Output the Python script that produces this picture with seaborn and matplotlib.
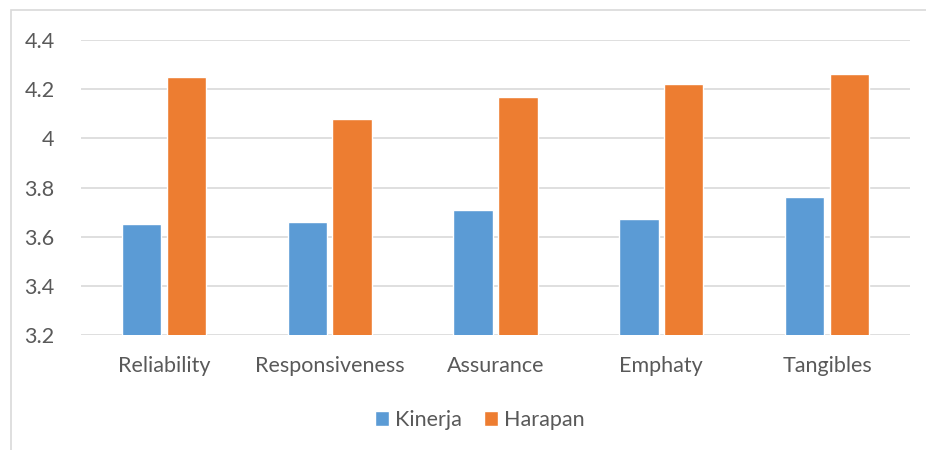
import matplotlib
matplotlib.use("Agg")
import matplotlib.pyplot as plt
import seaborn as sns
import pandas as pd
from matplotlib.patches import Rectangle

categories = ["Reliability", "Responsiveness", "Assurance", "Emphaty", "Tangibles"]
kinerja = [3.65, 3.66, 3.71, 3.67, 3.76]
harapan = [4.25, 4.08, 4.17, 4.22, 4.26]
series_names = ["Kinerja", "Harapan"]
yticks = [3.2, 3.4, 3.6, 3.8, 4.0, 4.2, 4.4]
ytick_labels = ["3.2", "3.4", "3.6", "3.8", "4", "4.2", "4.4"]

df = pd.DataFrame({
    "category": categories * 2,
    "value": kinerja + harapan,
    "series": [series_names[0]] * len(categories) + [series_names[1]] * len(categories),
})

sns.set_theme(style="white")
plt.rcParams["font.family"] = ["Lato", "DejaVu Sans"]
text_color = "#595959"
fs = 15.5

fig = plt.figure(figsize=(9.26, 4.5), dpi=100)
ax = fig.add_axes([81 / 926, 1 - 335 / 450, (910 - 81) / 926, (335 - 40) / 450])

# outer chart frame
fig.patches.append(Rectangle((11 / 926, -0.05), 1.0, 1 - 10 / 450 + 0.05,
                             transform=fig.transFigure, fill=False,
                             edgecolor="#D9D9D9", linewidth=1.2, zorder=0))

sns.barplot(data=df, x="category", y="value", hue="series",
            palette=["#5B9BD5", "#ED7D31"], width=0.54, gap=0.12,
            ax=ax, zorder=3, saturation=1)

ax.set_ylim(3.2, 4.4)
ax.set_xlim(-0.5, len(categories) - 0.5)
ax.set_yticks(yticks)
ax.set_yticklabels(ytick_labels)
ax.yaxis.grid(True, color="#D9D9D9", linewidth=1.2, zorder=0)
ax.set_axisbelow(True)
for s in ax.spines.values():
    s.set_visible(False)
ax.set_xlabel("")
ax.set_ylabel("")
ax.tick_params(axis="y", length=0, pad=19, labelsize=fs, labelcolor=text_color)
ax.tick_params(axis="x", length=0, pad=15, labelsize=fs, labelcolor=text_color)

ax.legend(loc="center", bbox_to_anchor=(480 / 926, 1 - 420 / 450),
          bbox_transform=fig.transFigure, ncol=2, frameon=False,
          handlelength=0.65, handleheight=0.65, handletextpad=0.3,
          columnspacing=1.0, fontsize=fs, labelcolor=text_color)

fig.savefig("out.png", dpi=100)
